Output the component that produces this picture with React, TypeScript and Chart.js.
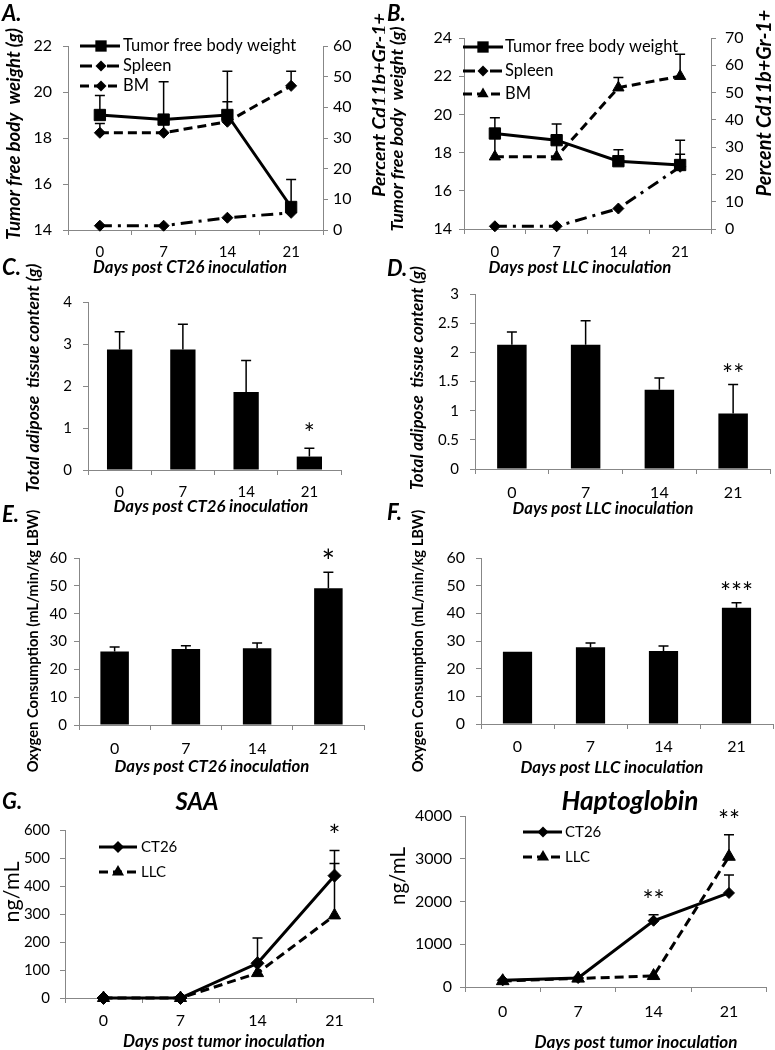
import React, { useEffect, useRef } from 'react';
import { Chart, registerables } from 'chart.js';
Chart.register(...registerables);

// ---------- data ----------
const days = ['0', '7', '14', '21'];

// A. CT26 body weight (left axis, g) and Cd11b+Gr-1+ percent (right axis)
const aLegend = ['Tumor free body weight', 'Spleen', 'BM'];
const aWeight = [19.0, 18.8, 19.0, 15.0];
const aWeightErr = [0.85, 1.65, 1.9, 1.2];
const aSpleen = [1.4, 1.4, 4.0, 5.6];
const aBM = [31.7, 31.7, 35.3, 47.0];
const aBMErr = [3.0, 3.0, 6.5, 4.8];
const aLeftTicks = [14, 16, 18, 20, 22];
const aRightTicks = [0, 10, 20, 30, 40, 50, 60];

// B. LLC
const bLegend = ['Tumor free body weight', 'Spleen', 'BM'];
const bWeight = [19.0, 18.65, 17.55, 17.35];
const bWeightErr = [0.83, 0.85, 0.6, 1.3];
const bSpleen = [1.0, 1.0, 7.5, 22.8];
const bSpleenErr = [0, 0, 0, 4.6];
const bBM = [26.5, 26.5, 51.8, 56.0];
const bBMErr = [8.0, 8.0, 3.7, 8.0];
const bLeftTicks = [14, 16, 18, 20, 22, 24];
const bRightTicks = [0, 10, 20, 30, 40, 50, 60, 70];

// C. CT26 adipose
const cAdipose = [2.87, 2.87, 1.86, 0.32];
const cAdiposeErr = [0.42, 0.6, 0.75, 0.2];
const cSig = ['', '', '', '*'];
const cTicks = [0, 1, 2, 3, 4];

// D. LLC adipose
const dAdipose = [2.13, 2.13, 1.36, 0.95];
const dAdiposeErr = [0.22, 0.41, 0.2, 0.5];
const dSig = ['', '', '', '**'];
const dTicks = [0, 0.5, 1, 1.5, 2, 2.5, 3];

// E. CT26 oxygen consumption
const eOxygen = [26.4, 27.3, 27.6, 49.1];
const eOxygenErr = [1.6, 1.2, 1.9, 5.8];
const eSig = ['', '', '', '*'];
const eTicks = [0, 10, 20, 30, 40, 50, 60];

// F. LLC oxygen consumption
const fOxygen = [26.1, 27.7, 26.4, 42.0];
const fOxygenErr = [0, 1.6, 1.8, 1.8];
const fSig = ['', '', '', '***'];
const fTicks = [0, 10, 20, 30, 40, 50, 60];

// G. SAA
const gLegend = ['CT26', 'LLC'];
const gCT26 = [0, 0, 124, 437];
const gCT26Err = [0, 0, 90, 90];
const gLLC = [0, 0, 89, 295];
const gLLCErr = [0, 0, 0, 185];
const gSig = ['', '', '', '*'];
const gTicks = [0, 100, 200, 300, 400, 500, 600];

// Haptoglobin
const hLegend = ['CT26', 'LLC'];
const hCT26 = [155, 210, 1550, 2200];
const hCT26Err = [0, 0, 140, 420];
const hLLC = [140, 200, 260, 3050];
const hLLCErr = [0, 0, 0, 510];
const hSig = ['', '', '**', '**'];
const hTicks = [0, 1000, 2000, 3000, 4000];

// ---------- styling helpers ----------
const GRAY = '#878787';
const FONT = 'Lato, "Open Sans", "DejaVu Sans", sans-serif';
const DASH = { solid: [] as number[], dash: [9, 5], dashdot: [12, 6, 3, 6] };

type Box = { x: number; y: number; w: number; h: number };
type Area = { l: number; t: number; r: number; b: number };
type Txt = { t: string; x: number; y: number; size?: number; w?: number; bold?: boolean; italic?: boolean; rot?: boolean; align?: CanvasTextAlign };
type Leg = { label: string; y: number; x0: number; x1: number; mx: number; tx: number; dash: number[]; marker: string; r: number; size: number };
type Err = { ds: number; plus: number[] };
type Over = { texts: Txt[]; legend?: Leg[]; errs: Err[]; stars?: string[]; starGap?: number; starSize?: number };

function drawMarker(ctx: CanvasRenderingContext2D, kind: string, x: number, y: number, r: number) {
  ctx.beginPath();
  if (kind === 'rect') {
    const s = r * Math.SQRT1_2;
    ctx.rect(x - s, y - s, 2 * s, 2 * s);
  } else if (kind === 'rectRot') {
    ctx.moveTo(x - r, y); ctx.lineTo(x, y - r); ctx.lineTo(x + r, y); ctx.lineTo(x, y + r); ctx.closePath();
  } else {
    for (let k = 0; k < 3; k++) {
      const a = (k * 2 * Math.PI) / 3;
      const px = x + Math.sin(a) * r, py = y - Math.cos(a) * r;
      if (k === 0) ctx.moveTo(px, py); else ctx.lineTo(px, py);
    }
    ctx.closePath();
  }
  ctx.fillStyle = '#000';
  ctx.fill();
}

function fontStr(t: Txt, size: number) {
  return `${t.italic ? 'italic ' : ''}${t.bold ? 'bold ' : ''}${size}px ${FONT}`;
}

function overlay(box: Box, o: Over) {
  return {
    id: 'overlay',
    beforeDatasetsDraw(chart: any) {
      const ctx: CanvasRenderingContext2D = chart.ctx;
      ctx.save();
      ctx.strokeStyle = '#000';
      ctx.lineWidth = 1.5;
      ctx.setLineDash([]);
      o.errs.forEach((e) => {
        const meta = chart.getDatasetMeta(e.ds);
        const ys = chart.scales[meta.yAxisID];
        const vals = chart.data.datasets[e.ds].data as number[];
        e.plus.forEach((p, i) => {
          if (!p) return;
          const x = meta.data[i].x;
          const y0 = ys.getPixelForValue(vals[i]);
          const y1 = ys.getPixelForValue(vals[i] + p);
          ctx.beginPath();
          ctx.moveTo(x, y0); ctx.lineTo(x, y1);
          ctx.moveTo(x - 5, y1); ctx.lineTo(x + 5, y1);
          ctx.stroke();
        });
      });
      ctx.restore();
    },
    afterDatasetsDraw(chart: any) {
      if (!o.stars) return;
      const ctx: CanvasRenderingContext2D = chart.ctx;
      const size = o.starSize || 26;
      o.stars.forEach((s, i) => {
        if (!s) return;
        let top = Infinity;
        let x = 0;
        chart.data.datasets.forEach((d: any, di: number) => {
          const meta = chart.getDatasetMeta(di);
          const ys = chart.scales[meta.yAxisID];
          const e = o.errs.find((q) => q.ds === di);
          const v = (d.data[i] as number) + (e ? e.plus[i] : 0);
          const py = ys.getPixelForValue(v);
          if (py < top) { top = py; x = meta.data[i].x; }
        });
        ctx.save();
        ctx.font = `${size}px ${FONT}`;
        ctx.fillStyle = '#000';
        ctx.textAlign = 'center';
        ctx.textBaseline = 'alphabetic';
        ctx.fillText(s, x, top - (o.starGap || 18) + 0.57 * size);
        ctx.restore();
      });
    },
    afterDraw(chart: any) {
      const ctx: CanvasRenderingContext2D = chart.ctx;
      (o.legend || []).forEach((L) => {
        ctx.save();
        ctx.strokeStyle = '#000';
        ctx.lineWidth = 3;
        ctx.setLineDash(L.dash);
        ctx.beginPath();
        ctx.moveTo(L.x0 - box.x, L.y - box.y);
        ctx.lineTo(L.x1 - box.x, L.y - box.y);
        ctx.stroke();
        ctx.setLineDash([]);
        drawMarker(ctx, L.marker, L.mx - box.x, L.y - box.y, L.r);
        ctx.font = `${L.size}px ${FONT}`;
        ctx.textAlign = 'left';
        ctx.textBaseline = 'middle';
        ctx.fillStyle = '#000';
        ctx.fillText(L.label, L.tx - box.x, L.y - box.y);
        ctx.restore();
      });
      o.texts.forEach((t) => {
        ctx.save();
        let size = t.size || 16;
        if (t.w) {
          ctx.font = fontStr(t, 100);
          size = (100 * t.w) / ctx.measureText(t.t).width;
        }
        ctx.font = fontStr(t, size);
        ctx.fillStyle = '#000';
        ctx.textAlign = t.align || 'center';
        ctx.textBaseline = 'middle';
        ctx.translate(t.x - box.x, t.y - box.y);
        if (t.rot) ctx.rotate(-Math.PI / 2);
        ctx.fillText(t.t, 0, 0);
        ctx.restore();
      });
    },
  };
}

function xAxis(box: Box, area: Area, size: number, pad: number) {
  return {
    type: 'category',
    offset: true,
    grid: { display: true, drawOnChartArea: false, drawTicks: true, tickLength: 5, offset: true, color: GRAY, lineWidth: 1 },
    border: { display: true, color: GRAY, width: 1 },
    ticks: { color: '#000', font: { family: FONT, size }, padding: pad, maxRotation: 0, autoSkip: false },
    afterFit: (s: any) => { s.height = box.y + box.h - area.b; },
  };
}

function yAxis(ticks: number[], side: 'left' | 'right', box: Box, area: Area, size: number, pad: number) {
  return {
    type: 'linear',
    position: side,
    min: ticks[0],
    max: ticks[ticks.length - 1],
    afterBuildTicks: (s: any) => { s.ticks = ticks.map((v) => ({ value: v })); },
    grid: { display: true, drawOnChartArea: false, drawTicks: true, tickLength: 5, color: GRAY, lineWidth: 1 },
    border: { display: true, color: GRAY, width: 1 },
    ticks: { color: '#000', font: { family: FONT, size }, padding: pad, callback: (v: any) => String(v) },
    afterFit: (s: any) => { s.width = side === 'left' ? area.l - box.x : box.x + box.w - area.r; },
  };
}

function baseOptions(box: Box, area: Area, scales: any, right: boolean) {
  return {
    responsive: false,
    maintainAspectRatio: false,
    animation: false,
    devicePixelRatio: 1,
    events: [],
    layout: { padding: { left: 0, top: area.t - box.y, right: right ? 0 : box.x + box.w - area.r, bottom: 0 } },
    plugins: { legend: { display: false }, tooltip: { enabled: false }, title: { display: false } },
    scales,
  };
}

function lineDs(label: string, data: number[], axis: string, dash: number[], style: string, r: number) {
  return {
    label, data, yAxisID: axis,
    borderColor: '#000', backgroundColor: '#000', borderWidth: 3, borderDash: dash,
    pointStyle: style, pointRadius: r, pointHoverRadius: r,
    pointBackgroundColor: '#000', pointBorderColor: '#000', pointBorderWidth: 1,
    tension: 0, fill: false, clip: false,
  };
}

function barDs(data: number[]) {
  return { data, backgroundColor: '#000', borderColor: '#000', borderWidth: 0, barPercentage: 0.4, categoryPercentage: 1 };
}

const bi = { bold: true, italic: true };

type Panel = { box: Box; make: () => any };

function panelA(): Panel {
  const box = { x: 0, y: 0, w: 385, h: 278 };
  const area = { l: 68, t: 46, r: 323, b: 230 };
  return {
    box,
    make: () => ({
      type: 'line',
      data: {
        labels: days,
        datasets: [
          lineDs(aLegend[0], aWeight, 'y', DASH.solid, 'rect', 8),
          lineDs(aLegend[1], aSpleen, 'y1', DASH.dashdot, 'rectRot', 5.5),
          lineDs(aLegend[2], aBM, 'y1', DASH.dash, 'rectRot', 5.5),
        ],
      },
      options: baseOptions(box, area, {
        x: xAxis(box, area, 15, 8),
        y: yAxis(aLeftTicks, 'left', box, area, 16, 11),
        y1: yAxis(aRightTicks, 'right', box, area, 16, 5),
      }, true),
      plugins: [overlay(box, {
        errs: [{ ds: 0, plus: aWeightErr }, { ds: 2, plus: aBMErr }],
        legend: [
          { label: aLegend[0], y: 46, x0: 80, x1: 120, mx: 101, tx: 123, dash: DASH.solid, marker: 'rect', r: 8, size: 16.5 },
          { label: aLegend[1], y: 66, x0: 80, x1: 120, mx: 101, tx: 123, dash: DASH.dashdot, marker: 'rectRot', r: 5.5, size: 16.5 },
          { label: aLegend[2], y: 86, x0: 80, x1: 120, mx: 101, tx: 123, dash: DASH.dash, marker: 'rectRot', r: 5.5, size: 16.5 },
        ],
        texts: [
          { t: 'A.', x: 2, y: 14, size: 22, align: 'left', ...bi },
          { t: 'Tumor free body  weight (g)', x: 14, y: 134, w: 212, rot: true, ...bi },
          { t: 'Percent Cd11b+Gr-1+', x: 380, y: 105, w: 184, rot: true, ...bi },
          { t: 'Days post CT26 inoculation', x: 190, y: 268, w: 194, ...bi },
        ],
      })],
    }),
  };
}

function panelB(): Panel {
  const box = { x: 385, y: 0, w: 390, h: 278 };
  const area = { l: 464, t: 38, r: 711, b: 229 };
  return {
    box,
    make: () => ({
      type: 'line',
      data: {
        labels: days,
        datasets: [
          lineDs(bLegend[0], bWeight, 'y', DASH.solid, 'rect', 8),
          lineDs(bLegend[1], bSpleen, 'y1', DASH.dashdot, 'rectRot', 5.5),
          lineDs(bLegend[2], bBM, 'y1', DASH.dash, 'triangle', 6.5),
        ],
      },
      options: baseOptions(box, area, {
        x: xAxis(box, area, 15, 9),
        y: yAxis(bLeftTicks, 'left', box, area, 16, 7),
        y1: yAxis(bRightTicks, 'right', box, area, 16, 9),
      }, true),
      plugins: [overlay(box, {
        errs: [{ ds: 0, plus: bWeightErr }, { ds: 1, plus: bSpleenErr }, { ds: 2, plus: bBMErr }],
        legend: [
          { label: bLegend[0], y: 47, x0: 463, x1: 503, mx: 483, tx: 505, dash: DASH.solid, marker: 'rect', r: 8, size: 16.5 },
          { label: bLegend[1], y: 71, x0: 463, x1: 503, mx: 483, tx: 505, dash: DASH.dashdot, marker: 'rectRot', r: 5.5, size: 16.5 },
          { label: bLegend[2], y: 94, x0: 463, x1: 503, mx: 483, tx: 505, dash: DASH.dash, marker: 'triangle', r: 6.5, size: 16.5 },
        ],
        texts: [
          { t: 'B.', x: 387, y: 14, size: 22, align: 'left', ...bi },
          { t: 'Tumor free body  weight (g)', x: 397, y: 129, w: 205, rot: true, ...bi },
          { t: 'Percent Cd11b+Gr-1+', x: 765, y: 103, w: 187, rot: true, ...bi },
          { t: 'Days post LLC inoculation', x: 580, y: 268, w: 183, ...bi },
        ],
      })],
    }),
  };
}

function barPanel(box: Box, area: Area, vals: number[], errs: number[], ticks: number[], sig: string[],
  yFont: number, yPad: number, xFont: number, xPad: number, starGap: number, starSize: number, texts: Txt[]): Panel {
  return {
    box,
    make: () => ({
      type: 'bar',
      data: { labels: days, datasets: [barDs(vals)] },
      options: baseOptions(box, area, {
        x: xAxis(box, area, xFont, xPad),
        y: yAxis(ticks, 'left', box, area, yFont, yPad),
      }, false),
      plugins: [overlay(box, { errs: [{ ds: 0, plus: errs }], stars: sig, starGap, starSize, texts })],
    }),
  };
}

function panelC(): Panel {
  return barPanel({ x: 0, y: 258, w: 385, h: 260 }, { l: 88, t: 302, r: 341, b: 470 }, cAdipose, cAdiposeErr, cTicks, cSig,
    15, 11, 15, 8, 20, 26, [
      { t: 'C.', x: 2, y: 268, size: 22, align: 'left', ...bi },
      { t: 'Total adipose  tissue content (g)', x: 33, y: 378, w: 229, rot: true, ...bi },
      { t: 'Days post CT26 inoculation', x: 211, y: 507, w: 195, ...bi },
    ]);
}

function panelD(): Panel {
  return barPanel({ x: 385, y: 258, w: 390, h: 260 }, { l: 475, t: 294, r: 770, b: 469 }, dAdipose, dAdiposeErr, dTicks, dSig,
    15, 11, 16, 9.4, 15, 26, [
      { t: 'D.', x: 387, y: 269, size: 22, align: 'left', ...bi },
      { t: 'Total adipose  tissue content (g)', x: 418, y: 378, w: 224, rot: true, ...bi },
      { t: 'Days post LLC inoculation', x: 603, y: 509, w: 181, ...bi },
    ]);
}

function panelE(): Panel {
  return barPanel({ x: 0, y: 500, w: 385, h: 278 }, { l: 79, t: 558, r: 364, b: 725 }, eOxygen, eOxygenErr, eTicks, eSig,
    15, 7, 16, 9.4, 17, 32, [
      { t: 'E.', x: 2, y: 515, size: 22, align: 'left', ...bi },
      { t: 'Oxygen Consumption (mL/min/kg LBW)', x: 33, y: 641, w: 263, rot: true, bold: true },
      { t: 'Days post CT26 inoculation', x: 212, y: 767, w: 195, ...bi },
    ]);
}

function panelF(): Panel {
  return barPanel({ x: 385, y: 500, w: 390, h: 278 }, { l: 481, t: 558, r: 773, b: 724 }, fOxygen, fOxygenErr, fTicks, fSig,
    16, 11, 16, 8.4, 16, 26, [
      { t: 'F.', x: 387, y: 513, size: 22, align: 'left', ...bi },
      { t: 'Oxygen Consumption (mL/min/kg LBW)', x: 418, y: 641, w: 263, rot: true, bold: true },
      { t: 'Days post LLC inoculation', x: 612, y: 768, w: 183, ...bi },
    ]);
}

function panelG(): Panel {
  const box = { x: 0, y: 785, w: 385, h: 265 };
  const area = { l: 65, t: 830, r: 373, b: 998 };
  return {
    box,
    make: () => ({
      type: 'line',
      data: {
        labels: days,
        datasets: [
          lineDs(gLegend[0], gCT26, 'y', DASH.solid, 'rectRot', 6.5),
          lineDs(gLegend[1], gLLC, 'y', DASH.dash, 'triangle', 7),
        ],
      },
      options: baseOptions(box, area, {
        x: xAxis(box, area, 16, 8.4),
        y: yAxis(gTicks, 'left', box, area, 15, 10),
      }, false),
      plugins: [overlay(box, {
        errs: [{ ds: 0, plus: gCT26Err }, { ds: 1, plus: gLLCErr }],
        stars: gSig, starGap: 20, starSize: 28,
        legend: [
          { label: gLegend[0], y: 847, x0: 99, x1: 137, mx: 118, tx: 141, dash: DASH.solid, marker: 'rectRot', r: 6, size: 15 },
          { label: gLegend[1], y: 872, x0: 99, x1: 137, mx: 118, tx: 141, dash: DASH.dash, marker: 'triangle', r: 7, size: 15 },
        ],
        texts: [
          { t: 'G.', x: 2, y: 802, size: 22, align: 'left', ...bi },
          { t: 'SAA', x: 197, y: 802, w: 43, ...bi },
          { t: 'ng/mL', x: 12, y: 892, w: 61, rot: true },
          { t: 'Days post tumor inoculation', x: 224, y: 1042, w: 202, ...bi },
        ],
      })],
    }),
  };
}

function panelH(): Panel {
  const box = { x: 385, y: 785, w: 390, h: 265 };
  const area = { l: 465, t: 816, r: 772, b: 987 };
  return {
    box,
    make: () => ({
      type: 'line',
      data: {
        labels: days,
        datasets: [
          lineDs(hLegend[0], hCT26, 'y', DASH.solid, 'rectRot', 5.5),
          lineDs(hLegend[1], hLLC, 'y', DASH.dash, 'triangle', 7.3),
        ],
      },
      options: baseOptions(box, area, {
        x: xAxis(box, area, 16, 10.4),
        y: yAxis(hTicks, 'left', box, area, 16, 8),
      }, false),
      plugins: [overlay(box, {
        errs: [{ ds: 0, plus: hCT26Err }, { ds: 1, plus: hLLCErr }],
        stars: hSig, starGap: 20, starSize: 26,
        legend: [
          { label: hLegend[0], y: 832, x0: 523, x1: 562, mx: 543, tx: 565, dash: DASH.solid, marker: 'rectRot', r: 5.5, size: 15 },
          { label: hLegend[1], y: 857, x0: 523, x1: 562, mx: 543, tx: 565, dash: DASH.dash, marker: 'triangle', r: 7, size: 15 },
        ],
        texts: [
          { t: 'Haptoglobin', x: 630, y: 802, w: 137, ...bi },
          { t: 'ng/mL', x: 398, y: 876, w: 58, rot: true },
          { t: 'Days post tumor inoculation', x: 636, y: 1042, w: 203, ...bi },
        ],
      })],
    }),
  };
}

const PANELS: Panel[] = [panelA(), panelB(), panelC(), panelD(), panelE(), panelF(), panelG(), panelH()];

export default function App() {
  const refs = useRef<(HTMLCanvasElement | null)[]>([]);
  useEffect(() => {
    const charts = PANELS.map((p, i) => new Chart(refs.current[i] as HTMLCanvasElement, p.make()));
    return () => { charts.forEach((c) => c.destroy()); };
  }, []);
  return (
    <div style={{ position: 'absolute', left: 0, top: 0, width: 775, height: 1050, background: '#fff' }}>
      {PANELS.map((p, i) => (
        <canvas
          key={i}
          ref={(el) => { refs.current[i] = el; }}
          width={p.box.w}
          height={p.box.h}
          style={{ position: 'absolute', left: p.box.x, top: p.box.y, width: p.box.w, height: p.box.h }}
        />
      ))}
    </div>
  );
}
